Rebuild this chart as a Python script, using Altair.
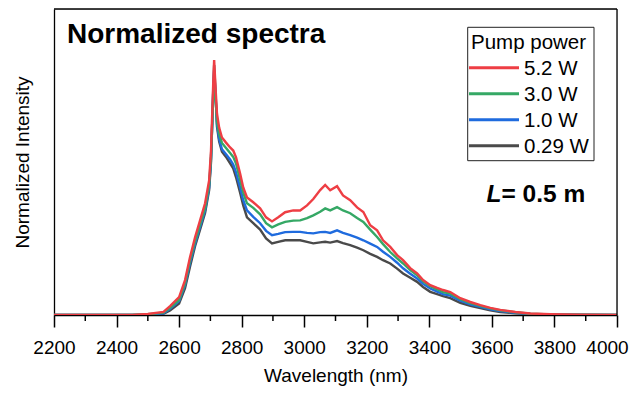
import altair as alt
import pandas as pd

# ---------------- data ----------------
wavelength = [2200, 2450, 2500, 2550, 2571, 2600, 2619, 2635, 2651, 2667, 2683, 2696, 2702, 2709,
              2712, 2717, 2721, 2728, 2737, 2750, 2763, 2773, 2782, 2795, 2805, 2817, 2837, 2859,
              2878, 2897, 2917, 2939, 2965, 2987, 3009, 3029, 3051, 3067, 3083, 3105, 3124, 3147,
              3169, 3189, 3211, 3233, 3252, 3275, 3297, 3316, 3339, 3361, 3380, 3403, 3425, 3444,
              3467, 3499, 3531, 3563, 3595, 3627, 3675, 3723, 3787, 3883, 4000]

p_5_2 = [0, 0.0, 0.004, 0.012, 0.035, 0.07, 0.137, 0.227, 0.305, 0.371, 0.438, 0.528, 0.645, 0.907,
         1.0, 0.88, 0.79, 0.735, 0.696, 0.676, 0.657, 0.645, 0.618, 0.555, 0.50, 0.461, 0.442, 0.418,
         0.383, 0.367, 0.383, 0.403, 0.41, 0.41, 0.43, 0.455, 0.49, 0.51, 0.489, 0.505, 0.469, 0.45,
         0.422, 0.404, 0.352, 0.332, 0.293, 0.267, 0.235, 0.215, 0.184, 0.163, 0.137, 0.117, 0.106, 0.098,
         0.09, 0.066, 0.051, 0.039, 0.028, 0.02, 0.012, 0.006, 0.003, 0.001, 0]

p_3_0 = [0, 0, 0.003, 0.009, 0.028, 0.06, 0.125, 0.215, 0.29, 0.355, 0.42, 0.51, 0.62, 0.85,
         0.89, 0.84, 0.76, 0.71, 0.675, 0.655, 0.635, 0.62, 0.594, 0.53, 0.48, 0.438, 0.42, 0.395,
         0.36, 0.344, 0.355, 0.365, 0.37, 0.371, 0.38, 0.391, 0.405, 0.418, 0.41, 0.423, 0.41, 0.399,
         0.38, 0.365, 0.335, 0.306, 0.278, 0.247, 0.222, 0.202, 0.176, 0.156, 0.132, 0.113, 0.1, 0.09,
         0.084, 0.062, 0.047, 0.036, 0.026, 0.018, 0.011, 0.005, 0.002, 0.001, 0]

p_1_0 = [0, 0, 0.002, 0.007, 0.024, 0.055, 0.118, 0.205, 0.28, 0.345, 0.41, 0.5, 0.61, 0.87,
         0.96, 0.85, 0.75, 0.69, 0.65, 0.63, 0.61, 0.59, 0.559, 0.5, 0.45, 0.41, 0.385, 0.36,
         0.33, 0.313, 0.318, 0.325, 0.326, 0.326, 0.322, 0.32, 0.325, 0.326, 0.322, 0.332, 0.322, 0.313,
         0.303, 0.293, 0.28, 0.267, 0.248, 0.228, 0.205, 0.183, 0.162, 0.143, 0.122, 0.104, 0.092, 0.082,
         0.076, 0.056, 0.042, 0.032, 0.022, 0.015, 0.009, 0.004, 0.002, 0.001, 0]

p_0_29 = [0, 0, 0.001, 0.005, 0.018, 0.045, 0.105, 0.19, 0.27, 0.335, 0.4, 0.49, 0.6, 0.88,
          0.98, 0.86, 0.74, 0.68, 0.64, 0.62, 0.595, 0.575, 0.54, 0.48, 0.43, 0.383, 0.36, 0.335,
          0.3, 0.281, 0.287, 0.293, 0.293, 0.293, 0.287, 0.281, 0.285, 0.287, 0.284, 0.29, 0.282, 0.274,
          0.264, 0.254, 0.24, 0.228, 0.215, 0.202, 0.182, 0.163, 0.146, 0.13, 0.11, 0.091, 0.082, 0.074,
          0.066, 0.048, 0.036, 0.027, 0.018, 0.012, 0.007, 0.003, 0.001, 0.0005, 0]

series_names = ["5.2 W", "3.0 W", "1.0 W", "0.29 W"]
series_values = [p_5_2, p_3_0, p_1_0, p_0_29]
series_colors = ["#EE3E44", "#35A865", "#1F6BDE", "#4A4A4A"]

major_ticks = [2200, 2400, 2600, 2800, 3000, 3200, 3400, 3600, 3800, 4000]
minor_ticks = [2300, 2500, 2700, 2900, 3100, 3300, 3500, 3700, 3900]

FONT = "Liberation Sans"
W, H = 563, 306
DY = -1  # plot area starts 1px lower than page margin because of top padding

xscale = alt.Scale(domain=[2200, 4000], nice=False, zero=False)
yscale = alt.Scale(domain=[0, 1.2], nice=False)

xaxis = alt.Axis(values=major_ticks, title="Wavelength   (nm)", format="d",
                 tickSize=12, tickWidth=1.5, tickColor="black",
                 domainColor="black", domainWidth=1.5,
                 labelFontSize=19, labelPadding=11, labelColor="black", labelFont=FONT,
                 labelOffset={"condition": {"test": "datum.value === 4000", "value": -10}, "value": 0},
                 titleFontSize=19, titleFontWeight="normal", titlePadding=9, titleFont=FONT,
                 titleColor="black", grid=False, labelFlush=False, labelBound=False)
yaxis = alt.Axis(title="Normalized Intensity", labels=False, ticks=False,
                 domainColor="black", domainWidth=1.3, grid=False, titleFontSize=19, titleFont=FONT,
                 titleFontWeight="normal", titlePadding=22, titleColor="black")

one = pd.DataFrame({"a": [0]})
layers = []

# draw order: gray first, red on top
for name, vals, col in reversed(list(zip(series_names, series_values, series_colors))):
    d = pd.DataFrame({"wl": wavelength, "I": vals, "power": name})
    layers.append(alt.Chart(d).mark_line(color=col, strokeWidth=2.4, clip=True).encode(
        x=alt.X("wl:Q", scale=xscale, axis=xaxis),
        y=alt.Y("I:Q", scale=yscale, axis=yaxis)))

# frame: top and right edges
layers.append(alt.Chart(one).mark_rule(color="black", strokeWidth=1.3).encode(
    x=alt.value(0), x2=alt.value(W), y=alt.value(0)))
layers.append(alt.Chart(one).mark_rule(color="black", strokeWidth=1.3).encode(
    x=alt.value(W), y=alt.value(0), y2=alt.value(H)))

# minor ticks
layers.append(alt.Chart(pd.DataFrame({"wl": minor_ticks})).mark_rule(color="black", strokeWidth=1.5).encode(
    x=alt.X("wl:Q", scale=xscale, axis=xaxis), y=alt.value(H), y2=alt.value(H + 6)))

# title
layers.append(alt.Chart(pd.DataFrame({"t": ["Normalized spectra"]})).mark_text(
    align="left", baseline="alphabetic", fontSize=28, fontWeight="bold", font=FONT, color="black"
).encode(x=alt.value(13), y=alt.value(34.7 + DY), text="t:N"))

# L = 0.5 m annotation
layers.append(alt.Chart(pd.DataFrame({"t": ["L"]})).mark_text(
    align="left", baseline="alphabetic", fontSize=24.5, fontWeight="bold", fontStyle="italic",
    font=FONT, color="black").encode(x=alt.value(432.5), y=alt.value(194 + DY), text="t:N"))
layers.append(alt.Chart(pd.DataFrame({"t": ["= 0.5 m"]})).mark_text(
    align="left", baseline="alphabetic", fontSize=24.5, fontWeight="bold",
    font=FONT, color="black").encode(x=alt.value(447.5), y=alt.value(194 + DY), text="t:N"))

# legend box
layers.append(alt.Chart(one).mark_rect(
    fill="white", stroke="#222222", strokeWidth=1).encode(
    x=alt.value(413.7), x2=alt.value(540), y=alt.value(19.3 + DY), y2=alt.value(152.7 + DY)))
layers.append(alt.Chart(pd.DataFrame({"t": ["Pump power"]})).mark_text(
    align="left", baseline="alphabetic", fontSize=20.5, font=FONT, color="black").encode(
    x=alt.value(417), y=alt.value(41 + DY), text="t:N"))
for i, (name, col) in enumerate(zip(series_names, series_colors)):
    yy = 59.7 + 26 * i + DY
    layers.append(alt.Chart(one).mark_rule(color=col, strokeWidth=3).encode(
        x=alt.value(415), x2=alt.value(465), y=alt.value(yy)))
    layers.append(alt.Chart(pd.DataFrame({"t": [name]})).mark_text(
        align="left", baseline="alphabetic", fontSize=20.5, font=FONT, color="black").encode(
        x=alt.value(470), y=alt.value(yy + 7.3), text="t:N"))

chart = alt.layer(*layers).properties(
    width=W, height=H,
    autosize=alt.AutoSizeParams(type="none"),
    padding={"left": 46, "top": 1, "right": 13, "bottom": 72},
).configure_view(stroke=None).configure(background="white")

chart.save("out.html", embed_options={"renderer": "svg", "actions": False})
